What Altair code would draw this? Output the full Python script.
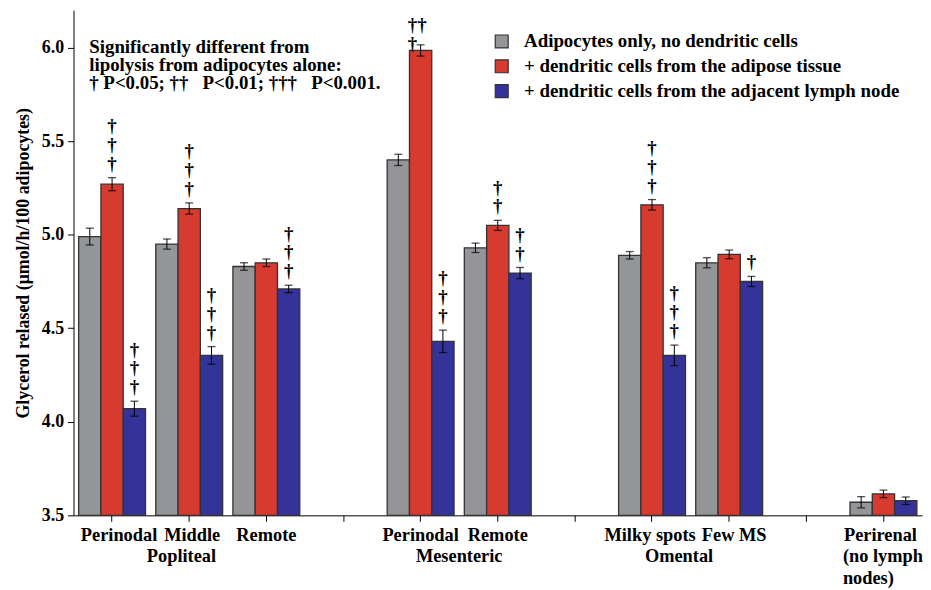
import altair as alt
import pandas as pd

FONT = "Liberation Serif"
NB = "\u00a0"

# x slots (unique keys "group|label"); gap slots are empty categories
slot_keys = ["Popliteal|Perinodal", "Popliteal|Middle", "Popliteal|Remote", "gap1",
             "Mesenteric|Perinodal", "Mesenteric|Remote", "gap2",
             "Omental|Milky spots", "Omental|Few MS", "gap3", "Perirenal|Perirenal"]

sites = ["Popliteal|Perinodal", "Popliteal|Middle", "Popliteal|Remote",
         "Mesenteric|Perinodal", "Mesenteric|Remote",
         "Omental|Milky spots", "Omental|Few MS", "Perirenal|Perirenal"]

series = ["Adipocytes only, no dendritic cells",
          "+ dendritic cells from the adipose tissue",
          "+ dendritic cells from the adjacent lymph node"]
colors = ["#949599", "#d73a2f", "#333399"]

adipocytes_mean = [4.99, 4.95, 4.83, 5.40, 4.93, 4.89, 4.85, 3.57]
adipocytes_err = [0.045, 0.027, 0.02, 0.03, 0.025, 0.02, 0.027, 0.03]
adipose_dc_mean = [5.27, 5.14, 4.85, 5.985, 5.05, 5.16, 4.895, 3.615]
adipose_dc_err = [0.035, 0.03, 0.02, 0.03, 0.027, 0.028, 0.023, 0.02]
node_dc_mean = [4.07, 4.355, 4.71, 4.43, 4.795, 4.355, 4.75, 3.578]
node_dc_err = [0.04, 0.047, 0.02, 0.06, 0.03, 0.055, 0.027, 0.02]

# significance daggers, lines listed top to bottom
adipocytes_sig = [[], [], [], [], [], [], [], []]
adipose_dc_sig = [["†", "†", "†"], ["†", "†", "†"], [], ["††", "†"], ["†", "†"],
                  ["†", "†", "†"], [], []]
node_dc_sig = [["†", "†", "†"], ["†", "†", "†"], ["†", "†", "†"], ["†", "†", "†"],
               ["†", "†"], ["†", "†", "†"], ["†"], []]

group_names = ["Popliteal", "Mesenteric", "Omental", "(no lymph\nnodes)"]

note_lines = ["Significantly different from",
              "lipolysis from adipocytes alone:",
              "† P<0.05; ††" + NB * 3 + "P<0.01; †††" + NB * 3 + "P<0.001."]

y_title = "Glycerol relased (μmol/h/100 adipocytes)"

rows, sig_rows = [], []
for i, key in enumerate(sites):
    means = [adipocytes_mean[i], adipose_dc_mean[i], node_dc_mean[i]]
    errs = [adipocytes_err[i], adipose_dc_err[i], node_dc_err[i]]
    sigs = [adipocytes_sig[i], adipose_dc_sig[i], node_dc_sig[i]]
    for s, m, e, g in zip(series, means, errs, sigs):
        rows.append(dict(key=key, series=s, mean=m, lo=m - e, hi=m + e))
        special = any(len(line) > 1 for line in g)
        for k, line in enumerate(reversed(g)):
            sig_rows.append(dict(key=key, series=s, hi=m + e, t=line, k=k, special=special))
df = pd.DataFrame(rows)
sig_df = pd.DataFrame(sig_rows)

xscale = alt.Scale(domain=slot_keys, paddingInner=0, paddingOuter=0)
xoff_scale = alt.Scale(domain=series, paddingInner=0, paddingOuter=0.23)
yscale = alt.Scale(domain=[3.5, 6.2], nice=False, zero=False)

label_shift = {"Popliteal|Perinodal": 7, "Popliteal|Middle": 3, "Omental|Milky spots": -2,
               "Omental|Few MS": 5, "Perirenal|Perirenal": -3}

xaxis = alt.Axis(labelExpr="split(datum.label, '|')[1] || ''", labelAngle=0,
                 labelFont=FONT, labelFontSize=18.5, labelFontWeight="bold",
                 labelColor="black", labelPadding=4, labelOverlap=False,
                 labelBound=False, labelLimit=0, tickSize=6, tickColor="black",
                 domainColor="black", grid=False,
                 labelOffset={"condition": [{"test": f"datum.value == '{k}'", "value": v}
                                            for k, v in label_shift.items()],
                              "value": 0})
yaxis = alt.Axis(values=[3.5, 4.0, 4.5, 5.0, 5.5, 6.0], format=".1f",
                 labelFont=FONT, labelFontSize=18, labelFontWeight="bold",
                 labelColor="black", labelPadding=4, tickSize=6, tickColor="black",
                 domainColor="black", grid=False, titleFont=FONT, titleFontSize=18,
                 titleFontWeight="bold", titleColor="black", titlePadding=9)


def X(field, **kw):
    return alt.X(field, scale=xscale, axis=xaxis, title=None, **kw)


def Y(field, **kw):
    return alt.Y(field, scale=yscale, axis=yaxis, title=y_title, **kw)


xoff = alt.XOffset("series:N", scale=xoff_scale)

bars = alt.Chart(df).mark_bar(stroke="#333333", strokeWidth=1.3).encode(
    x=X("key:N"),
    xOffset=xoff,
    y=Y("mean:Q"),
    y2=alt.datum(3.5),
    color=alt.Color("series:N", scale=alt.Scale(domain=series, range=colors),
                    legend=alt.Legend(title=None, orient="none", legendX=422, legendY=22,
                                      symbolType="square", symbolSize=170,
                                      symbolStrokeColor="#333333", symbolStrokeWidth=1.2,
                                      symbolOpacity=1, labelFont=FONT, labelFontSize=19,
                                      labelFontWeight="bold", labelColor="black",
                                      labelOffset=13, rowPadding=5, labelLimit=0,
                                      padding=0)),
)

err = alt.Chart(df).mark_rule(color="black", strokeWidth=1).encode(
    x=X("key:N"), xOffset=xoff, y=Y("lo:Q"), y2="hi:Q")
cap_hi = alt.Chart(df).mark_tick(color="black", thickness=1.3, size=8).encode(
    x=X("key:N"), xOffset=xoff, y=Y("hi:Q"))
cap_lo = alt.Chart(df).mark_tick(color="black", thickness=1.3, size=8).encode(
    x=X("key:N"), xOffset=xoff, y=Y("lo:Q"))

LINE = 19


def dagger_layer(k, special):
    sub = sig_df[(sig_df["k"] == k) & (sig_df["special"] == special)]
    if special:
        props = dict(align="left", dx=-13, dy=9 - LINE * k)
    else:
        props = dict(align="center", dy=-4 - LINE * k)
    return alt.Chart(sub).mark_text(
        font=FONT, fontSize=19, fontWeight="bold", baseline="bottom", color="black",
        **props).encode(x=X("key:N"), xOffset=xoff, y=Y("hi:Q"), text="t:N")


dagger_layers = []
for special in [False, True]:
    for k in sorted(sig_df[sig_df["special"] == special]["k"].unique()):
        dagger_layers.append(dagger_layer(int(k), special))

note = alt.Chart(pd.DataFrame({"key": [slot_keys[0]], "t": ["\n".join(note_lines)]})).mark_text(
    font=FONT, fontSize=19, fontWeight="bold", align="left", baseline="top",
    lineBreak="\n", lineHeight=18.5, dx=-23, dy=-10, color="black").encode(
    x=X("key:N"), y=alt.Y(datum=6.0, scale=yscale, axis=yaxis, title=y_title), text="t:N")


def group_label(name, key, bandpos, align="center", dx=0):
    return alt.Chart(pd.DataFrame({"key": [key], "t": [name]})).mark_text(
        font=FONT, fontSize=18.5, fontWeight="bold", align=align, baseline="top",
        lineBreak="\n", lineHeight=22, dy=32, dx=dx, color="black").encode(
        x=X("key:N", bandPosition=bandpos),
        y=alt.Y(datum=3.5, scale=yscale, axis=yaxis, title=y_title),
        text="t:N")


groups = [
    group_label(group_names[0], slot_keys[1], 0.4),
    group_label(group_names[1], slot_keys[4], 1.0),
    group_label(group_names[2], slot_keys[7], 0.85),
    group_label(group_names[3], slot_keys[10], 0.0, align="left", dx=-2),
]

chart = alt.layer(bars, err, cap_hi, cap_lo, *dagger_layers, note, *groups).properties(
    width=855, height=509,
    padding={"left": 6, "top": 0, "right": 0, "bottom": 0},
    background="white",
).configure_view(stroke=None)

chart.save("out.html", embed_options={"renderer": "svg", "actions": False})
